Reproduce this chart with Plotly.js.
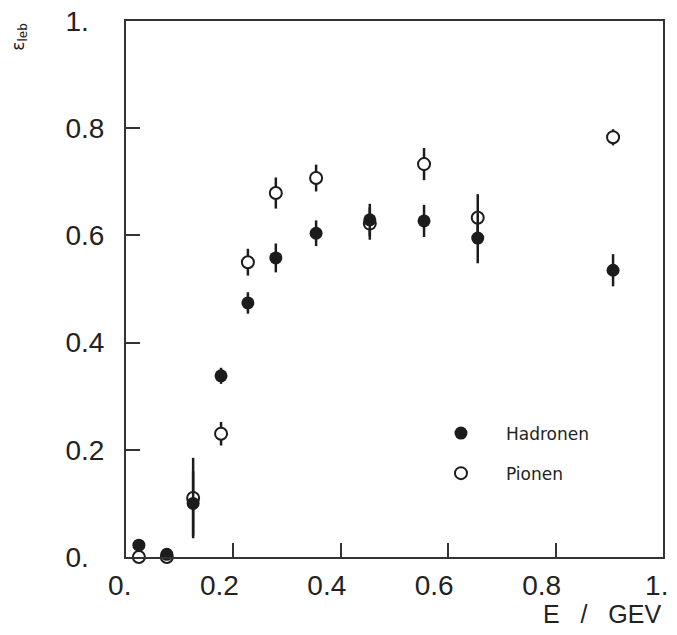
<!DOCTYPE html>
<html><head><meta charset="utf-8">
<script src="https://cdn.plot.ly/plotly-3.0.1.min.js"></script>
<style>body{margin:0;background:#fff}#c{width:677px;height:635px}</style>
</head><body><div id="c"></div>
<script>
const energy = [0.024, 0.076, 0.125, 0.177, 0.227, 0.279, 0.354, 0.454, 0.555, 0.655, 0.907];
const hadronen = [0.022, 0.005, 0.100, 0.338, 0.474, 0.558, 0.604, 0.629, 0.627, 0.595, 0.535];
const hadronenErr = [0, 0, 0.06, 0.015, 0.02, 0.027, 0.024, 0.03, 0.03, 0.047, 0.03];
const pionen = [0.0, 0.0, 0.110, 0.230, 0.550, 0.679, 0.707, 0.622, 0.733, 0.633, 0.783];
const pionenErr = [0, 0, 0.075, 0.022, 0.025, 0.029, 0.025, 0.03, 0.03, 0.044, 0.015];
const tickVals = [0, 0.2, 0.4, 0.6, 0.8, 1];
const xTickText = ['\u20070.', '0.2', '0.4', '0.6', '0.8', '\u20071.'];
const yTickText = ['0.\u2007', '0.2', '0.4', '0.6', '0.8', '1.\u2007'];

const ink = '#1c1c1c';
const traces = [
  {x: energy, y: pionen, name: 'Pionen', type: 'scatter', mode: 'markers', cliponaxis: false,
   legendrank: 2, legendgroup: 'p',
   marker: {symbol: 'circle', size: 12, color: '#fff', line: {color: ink, width: 2}},
   error_y: {type: 'data', array: pionenErr, visible: true, width: 0, thickness: 2.5, color: ink}},
  {x: energy, y: hadronen, name: 'Hadronen', type: 'scatter', mode: 'markers', cliponaxis: false,
   legendrank: 1, legendgroup: 'h',
   marker: {symbol: 'circle', size: 13, color: ink, line: {color: ink, width: 0}},
   error_y: {type: 'data', array: hadronenErr, visible: true, width: 0, thickness: 2.5, color: ink}}
];
const axisBase = {range: [0, 1], showgrid: false, zeroline: false, showline: true, mirror: true,
  linecolor: '#333', linewidth: 2, ticks: 'inside', ticklen: 14, tickwidth: 2, tickcolor: '#333',
  tickvals: tickVals, tickfont: {family: 'Liberation Sans, Arial, sans-serif', size: 28, color: '#222'}};
const layout = {
  width: 677, height: 635, paper_bgcolor: '#fff', plot_bgcolor: '#fff',
  margin: {l: 126, r: 14, t: 21, b: 78},
  showlegend: true,
  legend: {x: 0.54, y: 0.264, xanchor: 'left', yanchor: 'top', itemwidth: 80,
    font: {family: 'DejaVu Sans, sans-serif', size: 17, color: '#222'},
    bgcolor: 'rgba(0,0,0,0)', tracegroupgap: 15, traceorder: 'grouped'},
  xaxis: Object.assign({}, axisBase, {ticktext: xTickText, ticklabelstandoff: 2, ticklabelshift: -14}),
  yaxis: Object.assign({}, axisBase, {ticktext: yTickText, ticklabelstandoff: 14}),
  annotations: [
    {text: '\u03b5<sub>leb</sub>', xref: 'paper', yref: 'paper', x: -0.2, y: 0.97,
     showarrow: false, textangle: -90, xanchor: 'center', yanchor: 'middle',
     font: {family: 'DejaVu Sans, sans-serif', size: 17, color: '#222'}},
    {text: 'E   /   GEV', xref: 'paper', yref: 'paper', x: 1.0, y: -0.106, showarrow: false,
     xanchor: 'right', yanchor: 'middle',
     font: {family: 'Liberation Sans, Arial, sans-serif', size: 25, color: '#222'}}
  ]
};
Plotly.newPlot('c', traces, layout, {staticPlot: true});
</script></body></html>
